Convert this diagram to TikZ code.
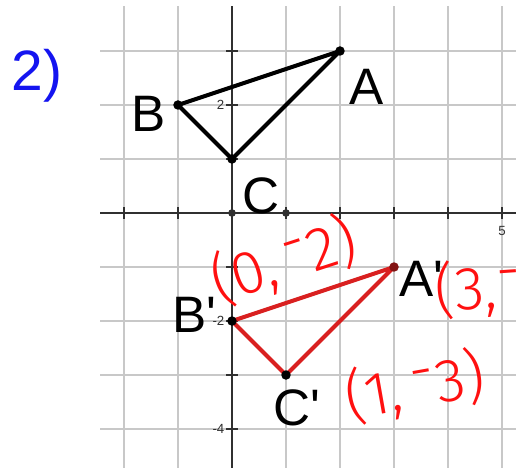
\documentclass[tikz,border=0pt]{standalone}
\usepackage{fontspec}
\setmainfont{Liberation Sans}[Ligatures=TeXOff]
\newfontfamily\penfont{Fira Sans}[UprightFont={* Light}]
\usetikzlibrary{positioning}
\definecolor{GR_GRID}{HTML}{C8C8C8}
\definecolor{GR_AXIS}{HTML}{303030}
\definecolor{GR_RED}{HTML}{D92020}
\definecolor{PEN_RED}{HTML}{FF1010}
\definecolor{PEN_BLUE}{HTML}{1414F0}
\newcommand{\hmin}{\raisebox{0.5ex}{-}}
\tikzset{
  gridline/.style={draw=GR_GRID, line width=0.9pt},
  axis/.style={draw=GR_AXIS, line width=0.9pt},
  tri/.style={line width=2.1pt, line join=round},
  vtx/.style={circle, fill=black, inner sep=0pt, minimum size=5pt},
  odot/.style={circle, fill=GR_AXIS, inner sep=0pt, minimum size=4pt},
  ptlabel/.style={font=\fontsize{27}{30}\selectfont, inner sep=0pt},
  numlabel/.style={font=\fontsize{7}{8}\selectfont, text=GR_AXIS, inner sep=1pt},
  pen/.style={text=PEN_RED, font=\penfont\fontsize{32}{34}\selectfont, inner sep=0pt},
}

\begin{document}
\begin{tikzpicture}
  \useasboundingbox (-4.296,-4.870) rectangle (5.259,3.944);
  \clip (-4.296,-4.870) rectangle (5.259,3.944);

  % grid and axes
  \begin{scope}
    \clip (-2.444,-4.72) rectangle (5.26,3.83);
    \draw[gridline] (-3,-5) grid (6,4);
    \draw[axis] (-2.444,0) -- (5.26,0);
    \draw[axis] (0,-4.72) -- (0,3.83);
    \foreach \x in {-2,...,5} \draw[axis] (\x,-0.11) -- (\x,0.11);
    \foreach \y in {-4,...,3} \draw[axis] (-0.11,\y) -- (0.11,\y);
  \end{scope}

  \node[numlabel, anchor=east] (n2)  at (-0.1,2)    {2};
  \node[numlabel, anchor=east] (nm2) at (-0.1,-2)   {-2};
  \node[numlabel, anchor=east] (nm4) at (-0.1,-4)   {-4};
  \node[numlabel] (n5) at (5,-0.34) {5};

  \node[odot] (o0) at (0,0) {};
  \node[odot] (o1) at (1,0) {};

  % original triangle
  \coordinate (A) at (2,3);
  \coordinate (B) at (-1,2);
  \coordinate (C) at (0,1);
  \draw[tri] (A) -- (B) -- (C) -- cycle;
  \node[vtx] (dA) at (A) {};
  \node[vtx] (dB) at (B) {};
  \node[vtx] (dC) at (C) {};

  \node[ptlabel] (lA) at (2.50,2.33) {A};
  \node[ptlabel] (lB) at (-1.54,1.83) {B};
  \node[ptlabel] (lC) at (0.54,0.31) {C};

  % image triangle
  \coordinate (A') at (3,-1);
  \coordinate (B') at (0,-2);
  \coordinate (C') at (1,-3);
  \draw[tri, GR_RED] (A') -- (B') -- (C') -- cycle;
  \node[vtx, fill=GR_RED!60!black] (dA') at (A') {};
  \node[vtx] (dB') at (B') {};
  \node[vtx] (dC') at (C') {};

  \node[ptlabel] (lA') at (3.50,-1.22) {A'};
  \node[ptlabel] (lB') at (-0.69,-1.88) {B'};
  \node[ptlabel] (lC') at (1.20,-3.60) {C'};

  % pen notes
  \node[pen, text=PEN_BLUE, font=\fontsize{30}{32}\selectfont] (num) at (-3.61,2.55) {2)};
  \node[pen, rotate=18] (pB) at (0.96,-0.88) {(0,\,\hmin2)};
  \node[pen, anchor=west, rotate=4] (pA) at (3.76,-1.45) {(3,\hmin1)};
  \node[pen, rotate=10] (pC) at (3.39,-3.22) {(1,\,\hmin3)};
\end{tikzpicture}
\end{document}
